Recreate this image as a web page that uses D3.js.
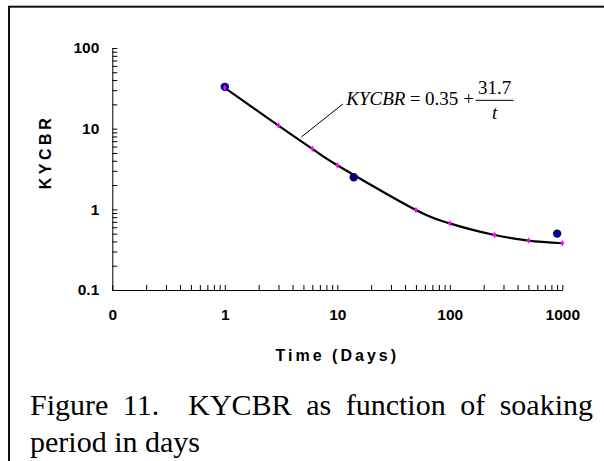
<!DOCTYPE html>
<html>
<head>
<meta charset="utf-8">
<script src="https://cdn.jsdelivr.net/npm/d3@7"></script>
<style>
  html, body { margin: 0; padding: 0; background: #fff; }
  svg { display: block; }
</style>
</head>
<body>
<svg id="chart" width="604" height="461"></svg>
<script>
// Measured KYCBR values at each soaking period (days)
const tMeasured = [1, 14, 900];
const kycbrMeasured = [33, 2.5, 0.5];

// Fitted model values KYCBR = 0.35 + 31.7 / t
const tFit = [1, 3, 6, 10, 50, 100, 250, 500, 1000];
const kycbrFit = [32.05, 10.92, 5.63, 3.52, 0.98, 0.67, 0.48, 0.41, 0.38];

// Axis decades and their labels
const xDecades = [0.1, 1, 10, 100, 1000];
const xTickLabels = ["0", "1", "10", "100", "1000"];
const yDecades = [0.1, 1, 10, 100];
const yTickLabels = ["0.1", "1", "10", "100"];

const xTitle = "Time (Days)";
const yTitle = "KYCBR";
const captionLine1 = ["Figure", "11.", "", "KYCBR", "as", "function", "of", "soaking"];
const captionLine2 = "period in days";

const svg = d3.select("#chart");
const W = 604, H = 461;

// frame around the figure (right/bottom run off the page)
svg.append("rect")
  .attr("x", 9).attr("y", 6.7)
  .attr("width", W + 20).attr("height", H + 20)
  .attr("fill", "none").attr("stroke", "#111").attr("stroke-width", 2);

const plot = { left: 112.3, right: 562.3, top: 48, bottom: 290 };

const x = d3.scaleLog().domain([0.1, 1000]).range([plot.left, plot.right]);
const y = d3.scaleLog().domain([0.1, 100]).range([plot.bottom, plot.top]);

// all minor+major tick positions per decade
function logTicks(decades) {
  const out = [];
  for (let i = 0; i < decades.length - 1; i++) {
    for (let m = 1; m <= 9; m++) out.push(+(decades[i] * m).toPrecision(6));
  }
  out.push(decades[decades.length - 1]);
  return out;
}
const isDecade = (arr, v) => arr.some(d => Math.abs(d - v) < 1e-9);
const labelFor = (arr, labels) => v => {
  const i = arr.findIndex(d => Math.abs(d - v) < 1e-9);
  return i >= 0 ? labels[i] : "";
};

const tickFont = "'Liberation Sans', Arial, sans-serif";

// x axis
const xAxis = d3.axisBottom(x)
  .tickValues(logTicks(xDecades))
  .tickSizeInner(-5).tickSizeOuter(0).tickPadding(19)
  .tickFormat(labelFor(xDecades, xTickLabels));
const gx = svg.append("g").attr("transform", `translate(0,${plot.bottom})`).call(xAxis);

// y axis
const yAxis = d3.axisLeft(y)
  .tickValues(logTicks(yDecades))
  .tickSizeInner(-5).tickSizeOuter(0).tickPadding(13)
  .tickFormat(labelFor(yDecades, yTickLabels));
const gy = svg.append("g").attr("transform", `translate(${plot.left},0)`).call(yAxis);

[gx, gy].forEach(g => {
  g.select(".domain").attr("stroke", "#000").attr("stroke-width", 1);
  g.selectAll(".tick line").attr("stroke", "#000").attr("stroke-width", 1);
  g.selectAll(".tick text")
    .attr("fill", "#000")
    .style("font-family", tickFont)
    .style("font-weight", "bold")
    .style("font-size", "15.5px");
});

// axis titles
svg.append("text")
  .attr("x", (plot.left + plot.right) / 2).attr("y", 361)
  .attr("text-anchor", "middle")
  .style("font-family", tickFont).style("font-weight", "bold")
  .style("font-size", "16px").style("letter-spacing", "3px")
  .text(xTitle);

svg.append("text")
  .attr("transform", "translate(51,152) rotate(-90)")
  .attr("text-anchor", "middle")
  .style("font-family", tickFont).style("font-weight", "bold")
  .style("font-size", "16px").style("letter-spacing", "3.5px")
  .text(yTitle);

// fitted curve (smoothed)
const fitPts = tFit.map((t, i) => [x(t), y(kycbrFit[i])]);
svg.append("path")
  .attr("d", d3.line().curve(d3.curveCardinal.tension(0))(fitPts))
  .attr("fill", "none").attr("stroke", "#000").attr("stroke-width", 2.2);

// measured points
svg.selectAll("circle.measured")
  .data(tMeasured)
  .enter().append("circle")
  .attr("class", "measured")
  .attr("cx", d => x(d))
  .attr("cy", (d, i) => y(kycbrMeasured[i]))
  .attr("r", 4.2)
  .attr("fill", "#000080");

// fitted-value markers
svg.selectAll("path.fit")
  .data(tFit)
  .enter().append("path")
  .attr("class", "fit")
  .attr("transform", (d, i) => `translate(${x(d)},${y(kycbrFit[i])})`)
  .attr("d", d3.symbol().type(d3.symbolDiamond).size(12))
  .attr("fill", "#ff00ff");

// equation annotation with leader line
const leaderFrom = { t: 4.8, v: 7.9 };
const leaderTo = { t: 11.2, v: 20.2 };
svg.append("line")
  .attr("x1", x(leaderFrom.t)).attr("y1", y(leaderFrom.v))
  .attr("x2", x(leaderTo.t)).attr("y2", y(leaderTo.v))
  .attr("stroke", "#000").attr("stroke-width", 1);

const eqFont = "'Liberation Serif', 'Times New Roman', serif";
const eqSize = 19;
const eqX = x(leaderTo.t) + 3.5;
const eqBase = y(leaderTo.v) + 0.5;
const eq = svg.append("g").style("font-family", eqFont).style("font-size", eqSize + "px");

let cx = eqX;
function piece(str, italic, gap) {
  const t = eq.append("text").attr("x", cx).attr("y", eqBase)
    .style("font-style", italic ? "italic" : "normal").text(str);
  cx += t.node().getComputedTextLength() + gap;
  return t;
}
piece("KYCBR", true, 4.4);
piece("=", false, 4.3);
piece("0.35", false, 5.2);
piece("+", false, 1.5);

const barX1 = cx, barX2 = cx + 38;
const axisY = eqBase - 4.2;
eq.append("line")
  .attr("x1", barX1).attr("x2", barX2)
  .attr("y1", axisY).attr("y2", axisY)
  .attr("stroke", "#000").attr("stroke-width", 1);
eq.append("text").attr("x", (barX1 + barX2) / 2).attr("y", axisY - 6.5)
  .attr("text-anchor", "middle").text("31.7");
eq.append("text").attr("x", (barX1 + barX2) / 2).attr("y", axisY + 18.5)
  .attr("text-anchor", "middle").style("font-style", "italic").text("t");

// caption, first line justified across the frame
const capFont = eqFont;
const capSize = 30;
const capLeft = 30, capRight = 593;
const cap = svg.append("g").style("font-family", capFont).style("font-size", capSize + "px").attr("fill", "#000");
const words = captionLine1.filter(w => w !== "");
const gapsUnits = [];
for (let i = 1, k = 0; i < captionLine1.length; i++) {
  if (captionLine1[i] === "") { continue; }
  gapsUnits.push(captionLine1[i - 1] === "" ? 2 : 1);
}
const wordNodes = words.map(w => cap.append("text").attr("y", 415).text(w));
const widths = wordNodes.map(n => n.node().getComputedTextLength());
const totalW = d3.sum(widths);
const unit = (capRight - capLeft - totalW) / d3.sum(gapsUnits);
let px = capLeft;
wordNodes.forEach((n, i) => {
  n.attr("x", px);
  px += widths[i] + (i < gapsUnits.length ? gapsUnits[i] * unit : 0);
});
cap.append("text").attr("x", capLeft).attr("y", 451.5).text(captionLine2);
</script>
</body>
</html>
